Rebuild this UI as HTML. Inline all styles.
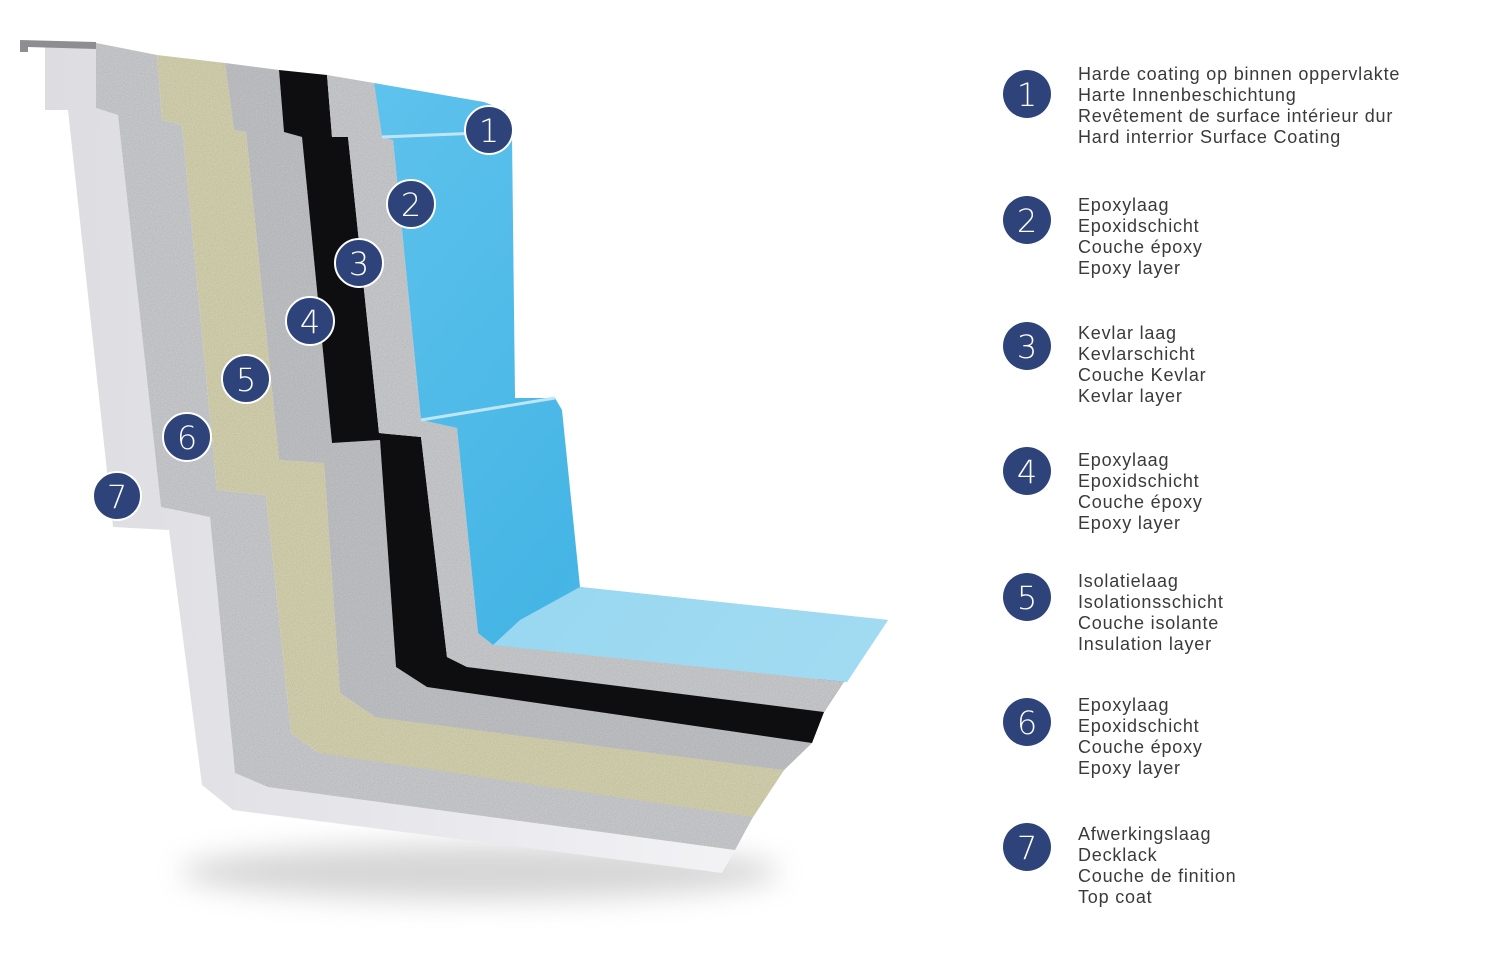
<!DOCTYPE html>
<html><head><meta charset="utf-8"><style>
html,body{margin:0;padding:0;background:#fff;}
svg{display:block;}
.t{font-family:"Liberation Sans",sans-serif;font-size:18px;fill:#3a3a3a;letter-spacing:0.8px;}
.n{font-family:"DejaVu Sans","Liberation Sans",sans-serif;font-size:32px;fill:#fff;font-weight:200;}
</style></head><body>
<svg width="1500" height="958" viewBox="0 0 1500 958" xmlns="http://www.w3.org/2000/svg">
<defs>
<filter id="blur" x="-50%" y="-50%" width="200%" height="200%"><feGaussianBlur stdDeviation="14"/></filter>
<filter id="grain" x="0" y="0" width="100%" height="100%">
<feTurbulence type="fractalNoise" baseFrequency="0.9" numOctaves="2" result="n"/>
<feColorMatrix in="n" type="matrix" values="0 0 0 0 0  0 0 0 0 0  0 0 0 0 0  0 0 0 0.3 0" result="a"/>
<feComposite in="a" in2="SourceGraphic" operator="in" result="b"/>
<feMerge><feMergeNode in="SourceGraphic"/><feMergeNode in="b"/></feMerge>
</filter>
<linearGradient id="wht" x1="0" y1="0" x2="1" y2="0"><stop offset="0" stop-color="#dcdce1"/><stop offset="1" stop-color="#f3f3f6"/></linearGradient>
<linearGradient id="blu" x1="0" y1="0" x2="1" y2="1"><stop offset="0" stop-color="#5ec2ec"/><stop offset="0.6" stop-color="#45b5e5"/><stop offset="1" stop-color="#9ad6f0"/></linearGradient>
</defs>

<!-- shadow -->
<ellipse cx="480" cy="872" rx="300" ry="28" fill="#9a9a9a" opacity="0.4" filter="url(#blur)"/>

<polygon fill="url(#wht)" points="45,45 45,110 68,110 113,527 169,530 202,785 233,810 722,873 735,850 753,817 268,787 235,773 210,517 161,507 118,115 96,108 96,43"/>
<polygon fill="#8d8d92" points="20,40 96,42 96,49 28,47 28,52 20,52"/>
<polygon fill="#cfd0d3" filter="url(#grain)" points="96,43 96,108 118,115 161,507 210,517 235,773 268,787 735,850 753,817 784,770 319,753 291,733 266,495 217,490 182,125 162,120 157,55"/>
<polygon fill="#dad7b4" filter="url(#grain)" points="157,55 162,120 182,125 217,490 266,495 291,733 319,753 753,817 784,770 812,743 375,717 340,693 324,463 279,460 246,132 234,130 225,63"/>
<polygon fill="#c6c7ca" filter="url(#grain)" points="225,63 234,130 246,132 279,460 324,463 340,693 375,717 784,770 812,743 824,712 427,687 396,667 380,440 332,443 302,137 284,132 279,70"/>
<polygon fill="#0e0e10" points="279,70 284,132 302,137 332,443 380,440 396,667 427,687 812,743 824,712 845,680 467,667 447,657 421,437 379,433 348,137 332,137 327,75"/>
<polygon fill="#cfd0d3" filter="url(#grain)" points="327,75 332,137 348,137 379,433 421,437 447,657 467,667 824,712 845,680 847,682 493,645 478,633 457,428 421,420 393,140 382,137 374,83"/>
<polygon fill="url(#blu)" points="374,83 484,102 505,110 512,135 515,398 555,398 562,410 580,587 888,620 847,682 493,645 478,633 457,428 421,420 393,140 382,137"/>
<polygon fill="#a3dbf2" opacity="0.9" points="580,587 888,620 847,682 493,645 520,620"/>
<polyline fill="none" stroke="#bfe6f7" stroke-width="3" points="382,137 505,132"/>
<polyline fill="none" stroke="#bfe6f7" stroke-width="3" points="421,420 555,398"/>

<g stroke="#fff" stroke-width="2" fill="#2e437a">
<circle cx="489" cy="130" r="24"/><circle cx="411" cy="204" r="24"/><circle cx="359" cy="263" r="24"/>
<circle cx="310" cy="321" r="24"/><circle cx="246" cy="379" r="24"/><circle cx="187" cy="437" r="24"/><circle cx="117" cy="496" r="24"/>
</g>
<g class="n" text-anchor="middle">
<text x="489" y="142">1</text><text x="411" y="216">2</text><text x="359" y="275">3</text>
<text x="310" y="333">4</text><text x="246" y="391">5</text><text x="187" y="449">6</text><text x="117" y="508">7</text>
</g>

<g fill="#2e437a">
<circle cx="1027" cy="94" r="24"/><circle cx="1027" cy="220" r="24"/><circle cx="1027" cy="346" r="24"/>
<circle cx="1027" cy="471" r="24"/><circle cx="1027" cy="597" r="24"/><circle cx="1027" cy="722" r="24"/><circle cx="1027" cy="847" r="24"/>
</g>
<g class="n" text-anchor="middle">
<text x="1027" y="106">1</text><text x="1027" y="232">2</text><text x="1027" y="358">3</text>
<text x="1027" y="483">4</text><text x="1027" y="609">5</text><text x="1027" y="734">6</text><text x="1027" y="859">7</text>
</g>

<g class="t">
<text x="1078" y="80">Harde coating op binnen oppervlakte</text>
<text x="1078" y="101">Harte Innenbeschichtung</text>
<text x="1078" y="122">Revêtement de surface intérieur dur</text>
<text x="1078" y="143">Hard interrior Surface Coating</text>

<text x="1078" y="211">Epoxylaag</text>
<text x="1078" y="232">Epoxidschicht</text>
<text x="1078" y="253">Couche époxy</text>
<text x="1078" y="274">Epoxy layer</text>

<text x="1078" y="339">Kevlar laag</text>
<text x="1078" y="360">Kevlarschicht</text>
<text x="1078" y="381">Couche Kevlar</text>
<text x="1078" y="402">Kevlar layer</text>

<text x="1078" y="466">Epoxylaag</text>
<text x="1078" y="487">Epoxidschicht</text>
<text x="1078" y="508">Couche époxy</text>
<text x="1078" y="529">Epoxy layer</text>

<text x="1078" y="587">Isolatielaag</text>
<text x="1078" y="608">Isolationsschicht</text>
<text x="1078" y="629">Couche isolante</text>
<text x="1078" y="650">Insulation layer</text>

<text x="1078" y="711">Epoxylaag</text>
<text x="1078" y="732">Epoxidschicht</text>
<text x="1078" y="753">Couche époxy</text>
<text x="1078" y="774">Epoxy layer</text>

<text x="1078" y="840">Afwerkingslaag</text>
<text x="1078" y="861">Decklack</text>
<text x="1078" y="882">Couche de finition</text>
<text x="1078" y="903">Top coat</text>
</g>
</svg>
</body></html>
